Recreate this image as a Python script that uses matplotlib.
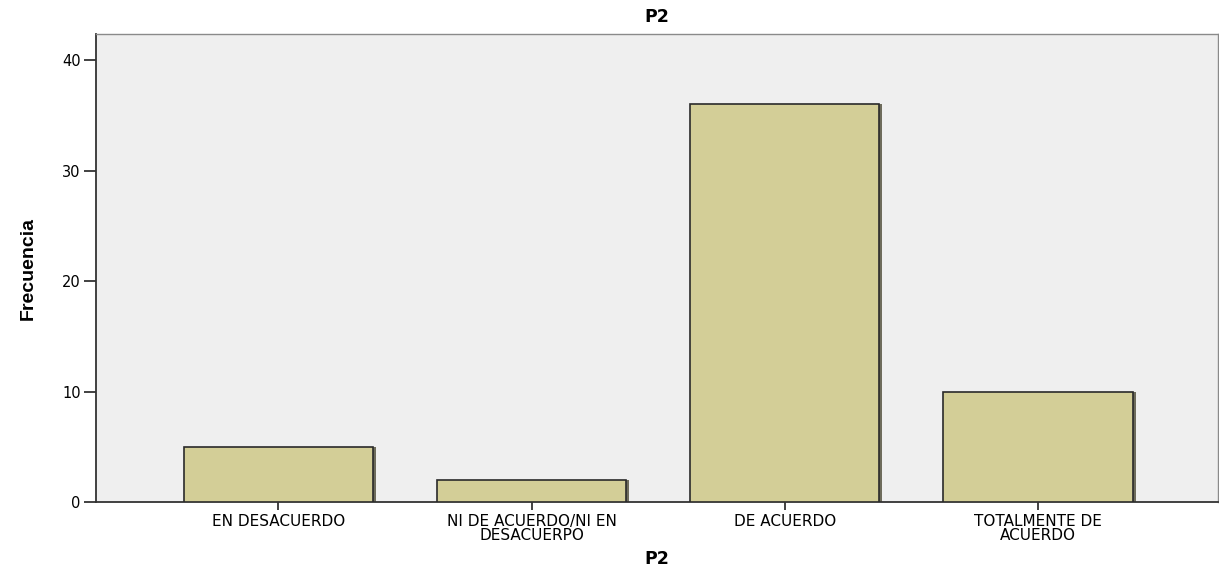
import numpy as np
import matplotlib

matplotlib.use("Agg")
import matplotlib.pyplot as plt


categories = ["EN DESACUERDO", "NI DE ACUERDO/NI EN\nDESACUERPO", "DE ACUERDO", "TOTALMENTE DE\nACUERDO"]
counts = [5, 2, 36, 10]
y_ticks = [0, 10, 20, 30, 40]

# the source chart has wide, stretched lettering; DejaVu Sans is the widest sans we have
plt.rcParams["font.family"] = ["DejaVu Sans"]

fig = plt.figure(figsize=(12.19, 5.69), dpi=100)
ax = fig.add_axes([0.0788, 0.1178, 0.9202, 0.8222])
ax.set_facecolor("#efefef")

x = np.arange(len(categories))
# thin shadow on the right side of each bar
ax.bar(x + 0.012, counts, width=0.747, color="#6e6c5c", edgecolor="none", zorder=2)
ax.bar(x, counts, width=0.747, color="#d3ce97", edgecolor="#2a2a2a", linewidth=1.2, zorder=3)

ax.set_xlim(-0.72, 3.71)
ax.set_ylim(0, 42.35)
ax.set_yticks(y_ticks)
ax.set_xticks(x)
ax.set_xticklabels(categories, fontsize=11, linespacing=0.9)
ax.tick_params(axis="y", labelsize=10.5, length=9, width=1.3, color="#333333", pad=2)
ax.tick_params(axis="x", length=6, width=1.3, color="#333333", pad=3)

for side in ["left", "bottom"]:
    ax.spines[side].set_color("#333333")
    ax.spines[side].set_linewidth(1.3)
for side in ["top", "right"]:
    ax.spines[side].set_color("#8a8a8a")
    ax.spines[side].set_linewidth(1.0)

ax.set_title("P2", fontsize=12.5, fontweight="bold", pad=9)
ax.set_xlabel("P2", fontsize=12.5, fontweight="bold")
ax.xaxis.set_label_coords(0.5, -0.103)
ax.set_ylabel("Frecuencia", fontsize=14, fontweight="bold",
              family=["Liberation Sans"], labelpad=18)

fig.savefig("out.png", dpi=100)
